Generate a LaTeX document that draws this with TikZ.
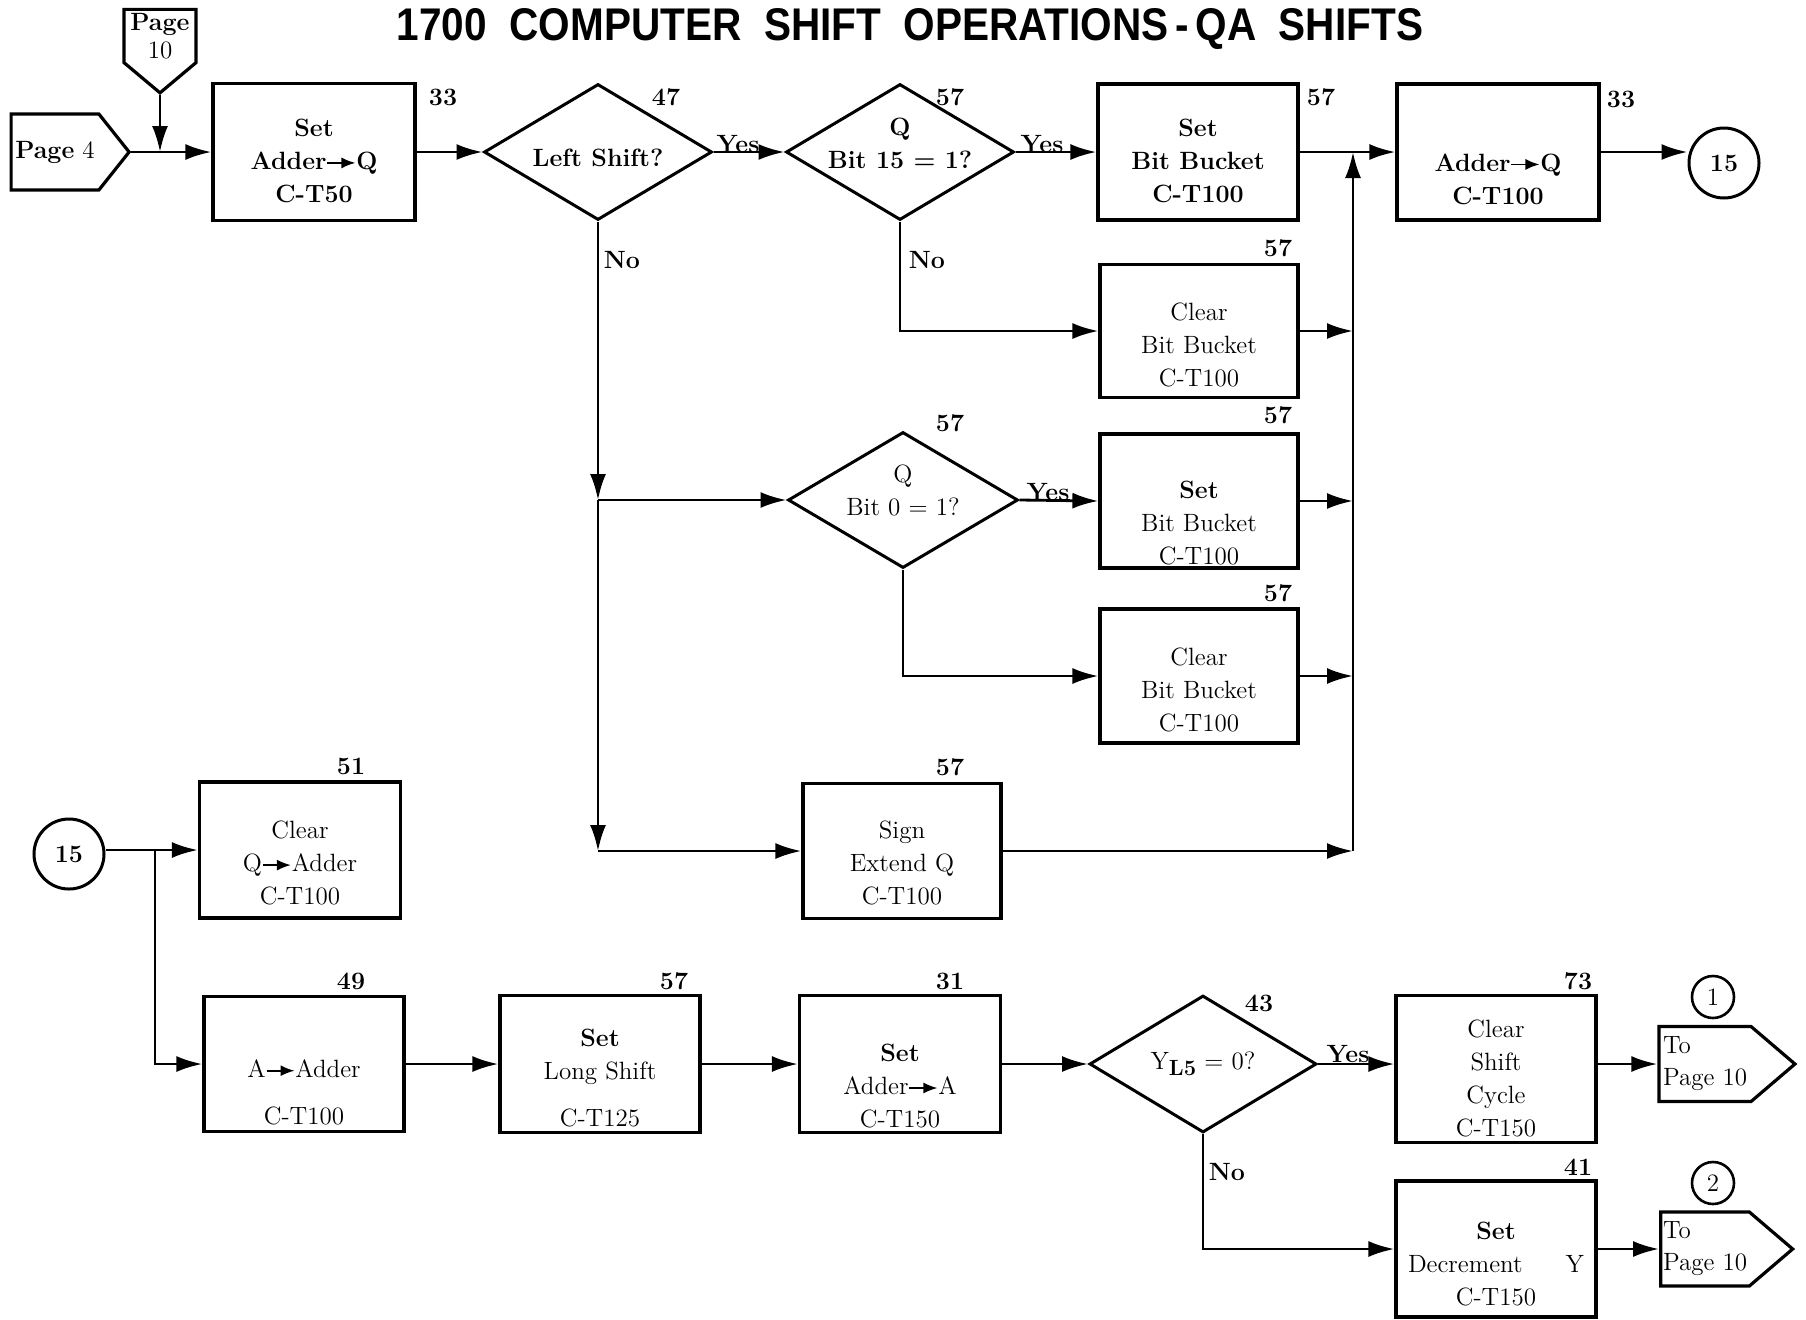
\documentclass[tikz,border=0pt]{standalone}
\usepackage{fontspec}
\usepackage{graphicx}
\usetikzlibrary{arrows.meta,shapes.geometric,shapes.symbols}
\newfontfamily\titlefont{Liberation Sans}
\newcommand{\arrto}{\tikz[baseline=-0.6ex]\draw[line width=0.9pt,-{Latex[length=7pt,width=5.5pt]}] (0pt,0pt)--(14pt,0pt);}
\begin{document}
\begin{tikzpicture}[x=0.5pt,y=-0.5pt,
  txt/.style={align=center,inner sep=0pt,font=\fontsize{12.5}{16.5}\selectfont},
  btxt/.style={align=center,inner sep=0pt,font=\fontsize{12.5}{16.5}\selectfont\bfseries},
  num/.style={inner sep=0pt,font=\fontsize{12.5}{15}\selectfont\bfseries},
  box/.style={draw,line width=1.6pt,inner sep=0pt,minimum width=100pt,minimum height=68pt},
  dia/.style={draw,diamond,line width=1.5pt,inner sep=0pt,minimum width=114pt,minimum height=68pt},
  conn/.style={draw,circle,line width=1.5pt,inner sep=0pt,minimum size=35pt,font=\fontsize{12.5}{15}\selectfont\bfseries},
  sconn/.style={draw,circle,line width=1.3pt,inner sep=0pt,minimum size=21pt,font=\fontsize{12.5}{15}\selectfont},
  page/.style={draw,signal,line width=1.6pt,inner sep=0pt,font=\fontsize{12.5}{15}\selectfont},
  ln/.style={line width=1.4pt},
  arr/.style={line width=1.4pt,-{Latex[length=13pt,width=8pt]}}
]
\fill[white] (0,0) rectangle (1806,1319);
\useasboundingbox (0,0) rectangle (1806,1319);

% title
\node[inner sep=0pt] (title) at (910,29) {\resizebox{513pt}{16pt}{\titlefont\bfseries 1700\ \ COMPUTER\ \ SHIFT\ \ OPERATIONS\,-\,QA\ \ SHIFTS}};

% off-page connectors (entry)
\node[page,signal to=east,signal pointer angle=103,minimum width=59pt,minimum height=38pt] (p4) at (55,152) {\textbf{Page} 4};
\node[page,signal to=south,signal pointer angle=100,minimum width=36pt,minimum height=39pt,align=center,font=\fontsize{12.5}{14}\selectfont] (p10) at (160,36) {\textbf{Page}\\10};
\coordinate (j0) at (160,152);

% upper row
\node[box,minimum width=101pt,minimum height=68.5pt,label={[btxt,yshift=-4.5pt]center:{Set\\Adder\arrto Q\\C-T50}}] (sadq) at (314,152) {};
\node[dia,label={[btxt,yshift=-3pt]center:{Left Shift?}}] (d1) at (598,152) {};
\node[dia,label={[btxt,yshift=4.5pt]center:{Q\\Bit 15 = 1?}}] (d2) at (900,152) {};
\node[box,label={[btxt,yshift=-4.5pt]center:{Set\\Bit Bucket\\C-T100}}] (sbb1) at (1198,152) {};
\node[box,minimum width=101pt,label={[btxt,yshift=-13.5pt]center:{Adder\arrto Q\\C-T100}}] (adq) at (1498,152) {};
\node[conn] (c15a) at (1724,163) {15};

\node[box,minimum width=99pt,minimum height=66.5pt,label={[txt,yshift=-7pt]center:{Clear\\Bit Bucket\\C-T100}}] (cbb1) at (1199,331) {};
\node[dia,minimum width=115pt,label={[txt,yshift=5pt]center:{Q\\Bit 0 = 1?}}] (d3) at (903,500) {};
\node[box,minimum width=99pt,minimum height=67pt,label={[txt,yshift=-11pt]center:{\textbf{Set}\\Bit Bucket\\C-T100}}] (sbb2) at (1199,501) {};
\node[box,minimum width=99pt,minimum height=67pt,label={[txt,yshift=-7pt]center:{Clear\\Bit Bucket\\C-T100}}] (cbb2) at (1199,676) {};
\node[box,minimum width=99pt,minimum height=67.5pt,label={[txt,yshift=-6pt]center:{Sign\\Extend Q\\C-T100}}] (sext) at (902,851) {};

\coordinate (j1) at (598,500);
\coordinate (j2) at (598,851);
\coordinate (kt) at (1353,152);
\coordinate (k1) at (1353,331);
\coordinate (k2) at (1353,501);
\coordinate (k3) at (1353,676);
\coordinate (k4) at (1353,851);

% lower part
\node[conn] (c15b) at (69,854) {15};
\coordinate (jb) at (155,850);
\node[box,minimum width=100.5pt,label={[txt,yshift=-6.5pt]center:{Clear\\Q\arrto Adder\\C-T100}}] (cqa) at (300,850) {};
\node[box,minimum height=67.5pt,label={[txt,yshift=-14pt]center:{A\arrto Adder\\[7pt]C-T100}}] (aadd) at (304,1064) {};
\node[box,minimum height=68.5pt,label={[txt,yshift=-7pt]center:{\textbf{Set}\\Long Shift\\[7pt]C-T125}}] (sls) at (600,1064) {};
\node[box,minimum width=100.5pt,minimum height=68.5pt,label={[txt,yshift=-11pt]center:{\textbf{Set}\\Adder\arrto A\\C-T150}}] (saa) at (900,1064) {};
\node[dia,minimum width=113.5pt,minimum height=68.5pt,label={[txt]center:{Y\raisebox{-0.6ex}{\bfseries\fontsize{11}{11}\selectfont L5} = 0?}}] (d4) at (1203,1064) {};
\node[box,minimum height=73.5pt,label={[txt,yshift=-4.5pt]center:{Clear\\Shift\\Cycle\\C-T150}}] (csc) at (1496,1069) {};
\node[box,label={[txt,yshift=-7.5pt]center:{\textbf{Set}\\\makebox[88pt]{Decrement\hfill Y}\\C-T150}}] (sdy) at (1496,1249) {};

\node[page,signal to=east,signal pointer angle=81,minimum width=68pt,minimum height=37.5pt,align=left,font=\fontsize{12.5}{16}\selectfont] (tp1) at (1705,1064) {To\\Page 10};
\node[page,signal to=east,signal pointer angle=81,minimum width=66pt,minimum height=37pt,align=left,font=\fontsize{12.5}{16}\selectfont] (tp2) at (1705,1249) {To\\Page 10};
\node[sconn] (c1) at (1713,997) {1};
\node[sconn] (c2) at (1713,1183) {2};

% numbers
\node[num] (n1) at (443,97) {33};
\node[num] (n2) at (666,97) {47};
\node[num] (n3) at (950,97) {57};
\node[num] (n4) at (1321,97) {57};
\node[num] (n5) at (1621,99) {33};
\node[num] (n6) at (1278,248) {57};
\node[num] (n7) at (950,423) {57};
\node[num] (n8) at (1278,415) {57};
\node[num] (n9) at (1278,593) {57};
\node[num] (n10) at (950,767) {57};
\node[num] (n11) at (351,766) {51};
\node[num] (n12) at (351,981) {49};
\node[num] (n13) at (674,981) {57};
\node[num] (n14) at (950,981) {31};
\node[num] (n15) at (1259,1003) {43};
\node[num] (n16) at (1578,981) {73};
\node[num] (n17) at (1578,1167) {41};

% yes / no
\node[btxt] (y1) at (738,144) {Yes};
\node[btxt] (y2) at (1042,144) {Yes};
\node[btxt] (y3) at (1048,492) {Yes};
\node[btxt] (y4) at (1348,1054) {Yes};
\node[btxt] (no1) at (622,260) {No};
\node[btxt] (no2) at (927,260) {No};
\node[btxt] (no3) at (1227,1172) {No};

% connectors
\draw[arr] (p10.south) -- (j0);
\draw[arr] (p4.east) -- (sadq.west);
\draw[arr] (sadq.east) -- (d1.west);
\draw[arr] (d1.east) -- (d2.west);
\draw[arr] (d2.east) -- (sbb1.west);
\draw[arr] (sbb1.east) -- (adq.west);
\draw[arr] (adq.east) -- (adq.east -| c15a.west);
\draw[arr] (d2.south) |- (cbb1.west);
\draw[arr] (d1.south) -- (j1);
\draw[arr] (j1) -- (j2);
\draw[arr] (j1) -- (d3.west);
\draw[arr] (j2) -- (sext.west);
\draw[arr] (d3.east) -- (sbb2.west);
\draw[arr] (d3.south) |- (cbb2.west);
\draw[arr] (cbb1.east) -- (k1);
\draw[arr] (sbb2.east) -- (k2);
\draw[arr] (cbb2.east) -- (k3);
\draw[arr] (sext.east) -- (k4);
\draw[arr] (k4) -- (kt);

\draw[arr] (c15b.east |- jb) -- (cqa.west);
\draw[arr] (jb) |- (aadd.west);
\draw[arr] (aadd.east) -- (sls.west);
\draw[arr] (sls.east) -- (saa.west);
\draw[arr] (saa.east) -- (d4.west);
\draw[arr] (d4.east) -- (d4.east -| csc.west);
\draw[arr] (csc.east |- tp1.west) -- (tp1.west);
\draw[arr] (d4.south) |- (sdy.west);
\draw[arr] (sdy.east) -- (tp2.west);
\end{tikzpicture}
\end{document}
